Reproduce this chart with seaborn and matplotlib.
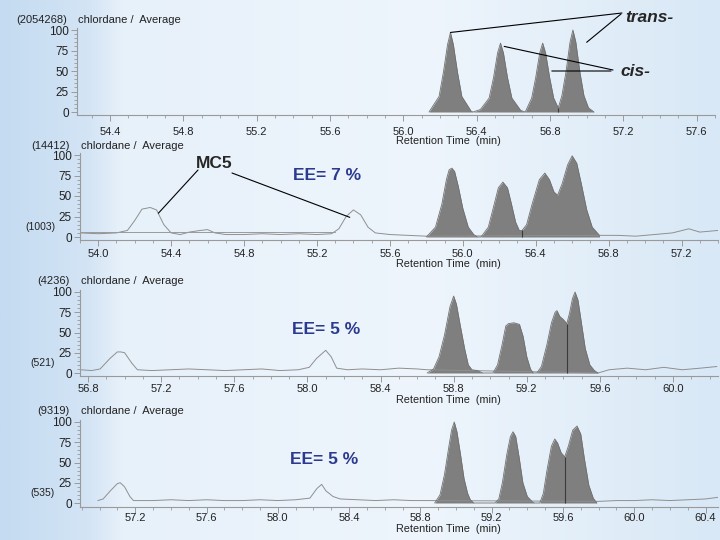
import numpy as np
import matplotlib
matplotlib.use('Agg')
import matplotlib.pyplot as plt
import matplotlib.colors as mcolors
from matplotlib.ticker import MultipleLocator
import seaborn as sns

# ---- data (retention time in min, relative intensity %) ----
# panel 1: standard, trans-/cis- pairs
p1_peak_t = [56.14, 56.195, 56.219, 56.241, 56.257, 56.273, 56.295, 56.319, 56.37, 56.38,
             56.42, 56.468, 56.492, 56.514, 56.53, 56.546, 56.568, 56.592, 56.64, 56.665,
             56.70, 56.722, 56.744, 56.76, 56.776, 56.798, 56.82, 56.845,
             56.865, 56.888, 56.909, 56.925, 56.941, 56.962, 56.985, 57.01, 57.04]
p1_peak_v = [0, 19, 49, 82, 97, 82, 49, 19, 1, 0,
             3, 17, 42, 72, 84, 72, 42, 17, 2, 0,
             17, 42, 72, 84, 72, 42, 17, 5,
             20, 50, 85, 100, 85, 50, 20, 5, 0]
p1_noise_t = []
p1_noise_v = []
p1_split = (56.845, 5)
p1_ticks = [54.4, 54.8, 55.2, 55.6, 56.0, 56.4, 56.8, 57.2, 57.6]

# panel 2: EE= 7 %
p2_noise_t = [53.90, 54.00, 54.10, 54.16, 54.20, 54.24, 54.285, 54.32, 54.36, 54.40,
              54.45, 54.50, 54.56, 54.60, 54.64, 54.70, 54.80, 54.90, 55.00, 55.10,
              55.20, 55.28, 55.32, 55.36, 55.40, 55.44, 55.48, 55.52, 55.60, 55.70, 55.80,
              56.75, 56.85, 56.95, 57.05, 57.15, 57.24, 57.30, 57.40]
p2_noise_v = [5, 4, 5, 8, 20, 34, 36, 33, 15, 5,
              3, 6, 8, 9, 5, 3, 3, 4, 3, 4,
              3, 4, 10, 25, 33, 27, 12, 5, 3, 2, 1,
              2, 2, 1, 3, 5, 10, 6, 8]
p2_base_t = [53.90, 55.30]
p2_base_v = [6, 6]
p2_peak_t = [55.80, 55.85, 55.885, 55.91, 55.925, 55.94, 55.955, 55.975, 56.00, 56.03, 56.06, 56.08,
             56.10, 56.14, 56.17, 56.195, 56.22, 56.245, 56.265, 56.29, 56.31, 56.325,
             56.35, 56.38, 56.42, 56.45, 56.475, 56.50, 56.52, 56.545, 56.575, 56.60,
             56.625, 56.65, 56.68, 56.71, 56.75]
p2_peak_v = [0, 12, 40, 70, 82, 84, 80, 62, 35, 12, 3, 0,
             0, 12, 38, 60, 67, 60, 42, 18, 8, 8,
             15, 40, 70, 78, 70, 55, 51, 65, 88, 99,
             90, 65, 33, 12, 2]
p2_split = (56.325, 8)
p2_ticks = [54.0, 54.4, 54.8, 55.2, 55.6, 56.0, 56.4, 56.8, 57.2]

# panel 3: EE= 5 %
p3_noise_t = [56.76, 56.82, 56.866, 56.92, 56.96, 56.98, 57.00, 57.04, 57.07, 57.15,
              57.25, 57.35, 57.45, 57.55, 57.65, 57.75, 57.85, 57.95, 58.01, 58.05,
              58.10, 58.13, 58.16, 58.22, 58.30, 58.40, 58.50, 58.60, 58.655,
              59.59, 59.65, 59.75, 59.85, 59.95, 60.05, 60.15, 60.24]
p3_noise_v = [4, 3, 5, 18, 26, 26, 25, 12, 4, 3,
              4, 5, 4, 3, 4, 5, 3, 4, 7, 18,
              28, 20, 6, 4, 5, 4, 6, 5, 4,
              0, 4, 6, 4, 7, 4, 6, 8]
p3_peak_t = [58.655, 58.69, 58.72, 58.75, 58.78, 58.80, 58.815, 58.835, 58.86, 58.88, 58.90, 58.93, 58.96,
             59.015, 59.04, 59.065, 59.085, 59.10, 59.13, 59.16, 59.18, 59.20, 59.22, 59.235,
             59.255, 59.28, 59.31, 59.335, 59.355, 59.365, 59.38, 59.40, 59.419, 59.435,
             59.45, 59.464, 59.48, 59.50, 59.52, 59.545, 59.57, 59.59]
p3_peak_v = [0, 5, 20, 47, 82, 95, 85, 60, 30, 10, 4, 3, 0,
             0, 10, 35, 58, 61, 62, 60, 45, 20, 5, 0,
             0, 8, 35, 62, 75, 77, 70, 66, 61, 75,
             92, 100, 90, 60, 30, 10, 3, 0]
p3_split = (59.419, 61)
p3_ticks = [56.8, 57.2, 57.6, 58.0, 58.4, 58.8, 59.2, 59.6, 60.0]

# panel 4: EE= 5 %
p4_noise_t = [56.99, 57.02, 57.06, 57.10, 57.116, 57.14, 57.17, 57.19, 57.30, 57.40,
              57.50, 57.60, 57.70, 57.80, 57.90, 58.00, 58.10, 58.18, 58.22, 58.246,
              58.27, 58.31, 58.35, 58.45, 58.55, 58.65, 58.75, 58.85,
              59.80, 59.90, 60.00, 60.10, 60.20, 60.30, 60.40, 60.47]
p4_noise_v = [3, 5, 15, 24, 25, 20, 8, 3, 3, 4,
              3, 4, 3, 3, 4, 3, 4, 6, 18, 23,
              15, 8, 5, 4, 3, 4, 3, 3,
              2, 3, 3, 4, 3, 4, 5, 7]
p4_peak_t = [58.88, 58.91, 58.935, 58.96, 58.975, 58.99, 59.005, 59.025, 59.045, 59.065, 59.08, 59.10,
             59.218, 59.24, 59.26, 59.285, 59.305, 59.32, 59.335, 59.355, 59.375, 59.40, 59.43, 59.44,
             59.47, 59.49, 59.51, 59.535, 59.554, 59.57, 59.59, 59.61, 59.63, 59.655,
             59.679, 59.70, 59.72, 59.745, 59.77, 59.79]
p4_peak_v = [0, 10, 35, 70, 90, 100, 88, 60, 30, 12, 4, 0,
             0, 5, 25, 60, 82, 88, 82, 55, 25, 8, 1, 0,
             0, 12, 40, 70, 79, 74, 62, 57, 70, 90,
             95, 85, 55, 22, 6, 0]
p4_split = (59.61, 57)
p4_ticks = [57.2, 57.6, 58.0, 58.4, 58.8, 59.2, 59.6, 60.0, 60.4]

max_counts = ['(2054268)', '(14412)', '(4236)', '(9319)']
low_counts = [None, '(1003)', '(521)', '(535)']
ee_labels = ['EE= 7 %', 'EE= 5 %', 'EE= 5 %']
y_ticks = [0, 25, 50, 75, 100]

# ---- figure ----
sns.set_style('ticks')
plt.rcParams['font.family'] = ['Liberation Sans', 'DejaVu Sans']

W, H = 720, 540
fig = plt.figure(figsize=(7.2, 5.4), dpi=100)


def fx(px):
    return px / W


def fy(py):
    return 1 - py / H


# light blue slide background
bg = fig.add_axes([0, 0, 1, 1], zorder=-10)
stops = [0, 0.12, 0.17, 0.6, 1.0]
cols = np.array([mcolors.to_rgb(c) for c in ['#c4dbf1', '#d3e4f5', '#e7f1fa', '#eef5fc', '#d8e8f6']])
xs = np.linspace(0, 1, 400)
img = np.stack([np.interp(xs, stops, cols[:, i]) for i in range(3)], axis=-1)[None, :, :]
bg.imshow(img, aspect='auto', extent=[0, 1, 0, 1])
bg.axis('off')

# pixel boxes: left, right, y of 100, y of 0, y of x axis
panels = [
    dict(t=p1_peak_t, v=p1_peak_v, nt=p1_noise_t, nv=p1_noise_v, split=p1_split, ticks=p1_ticks,
         box=(77, 715, 30, 112, 115), xlim=(54.22, 57.70), title_y=20, low_y=None, xl_y=141, pad=4.5),
    dict(t=p2_peak_t, v=p2_peak_v, nt=p2_noise_t, nv=p2_noise_v, split=p2_split, ticks=p2_ticks,
         box=(80, 718, 155, 237, 240), xlim=(53.90, 57.40), title_y=146, low_y=227, xl_y=264, pad=2.3),
    dict(t=p3_peak_t, v=p3_peak_v, nt=p3_noise_t, nv=p3_noise_v, split=p3_split, ticks=p3_ticks,
         box=(80, 718, 292, 373, 376), xlim=(56.756, 60.246), title_y=281, low_y=363, xl_y=400, pad=1.6),
    dict(t=p4_peak_t, v=p4_peak_v, nt=p4_noise_t, nv=p4_noise_v, split=p4_split, ticks=p4_ticks,
         box=(80, 718, 422, 503, 507), xlim=(56.89, 60.47), title_y=411, low_y=493, xl_y=529, pad=0.5),
]

axes = []
for i, p in enumerate(panels):
    left, right, y100, y0, yax = p['box']
    ymin = -(yax - y0) / (y0 - y100) * 100
    ytop = 102
    h_px = (ytop - ymin) * (y0 - y100) / 100
    ax = fig.add_axes([fx(left), fy(yax), (right - left) / W, h_px / H])
    ax.set_facecolor('none')

    if len(p['nt']):
        sns.lineplot(x=p['nt'], y=p['nv'], ax=ax, color='#8f8f8f', lw=0.7,
                     estimator=None, sort=False)
    if i == 1:
        sns.lineplot(x=p2_base_t, y=p2_base_v, ax=ax, color='#9a9a9a', lw=0.7,
                     estimator=None, sort=False)
    ax.fill_between(p['t'], 0, p['v'], color='#7f7f7f', lw=0)
    sns.lineplot(x=p['t'], y=p['v'], ax=ax, color='#707070', lw=0.6,
                 estimator=None, sort=False)
    ax.vlines(p['split'][0], 0, p['split'][1], color='#3a3a3a', lw=0.8)

    ax.set_xlim(*p['xlim'])
    ax.set_ylim(ymin, ytop)
    ax.set_xticks(p['ticks'])
    ax.set_xticklabels([f'{t:.1f}' for t in p['ticks']])
    ax.xaxis.set_minor_locator(MultipleLocator(0.1))
    ax.set_yticks(y_ticks)
    ax.set_yticklabels([str(v) for v in y_ticks])
    ax.yaxis.set_minor_locator(MultipleLocator(5))
    ax.set_xlabel('')
    ax.set_ylabel('')
    for s in ['top', 'right']:
        ax.spines[s].set_visible(False)
    for s in ['left', 'bottom']:
        ax.spines[s].set_color('#9a9a9a')
        ax.spines[s].set_linewidth(0.8)
    ax.tick_params(axis='x', which='major', length=4, width=0.7, color='#9a9a9a',
                   labelsize=8, pad=p['pad'], labelcolor='#222222')
    ax.tick_params(axis='y', which='major', length=4, width=0.7, color='#9a9a9a',
                   labelsize=8.5, pad=2, labelcolor='#222222')
    ax.tick_params(which='minor', length=2, width=0.6, color='#9a9a9a')

    # header texts
    fig.text(fx(left - 10), fy(p['title_y']), max_counts[i], ha='right', va='center',
             fontsize=8, color='#222222')
    fig.text(fx(left + 1), fy(p['title_y']), 'chlordane /  Average', ha='left', va='center',
             fontsize=8, color='#222222')
    if p['low_y'] is not None:
        fig.text(fx(55), fy(p['low_y']), low_counts[i], ha='right', va='center',
                 fontsize=7.5, color='#222222')
    fig.text(fx(448), fy(p['xl_y']), 'Retention Time  (min)', ha='center', va='center',
             fontsize=7.8, color='#222222')
    axes.append(ax)

ax1, ax2, ax3, ax4 = axes
line_kw = dict(arrowstyle='-', color='black', lw=0.8, shrinkA=0, shrinkB=0)

# trans- / cis- labels on the standard
fig.text(fx(625), fy(18), 'trans-', ha='left', va='center', fontsize=12.5,
         fontweight='bold', fontstyle='italic')
ax1.annotate('', xy=(p1_peak_t[4], p1_peak_v[4]), xytext=(fx(622), fy(13)),
             textcoords='figure fraction', arrowprops=line_kw)
ax1.annotate('', xy=(57.0, 85), xytext=(fx(621), fy(14)),
             textcoords='figure fraction', arrowprops=line_kw)
fig.text(fx(620), fy(71), 'cis-', ha='left', va='center', fontsize=12.5,
         fontweight='bold', fontstyle='italic')
ax1.annotate('', xy=(56.55, 80), xytext=(fx(613), fy(70)),
             textcoords='figure fraction', arrowprops=line_kw)
ax1.annotate('', xy=(56.81, 50), xytext=(fx(611), fy(71)),
             textcoords='figure fraction', arrowprops=line_kw)

# MC5 internal standard
fig.text(fx(214), fy(164), 'MC5', ha='center', va='center', fontsize=12.5, fontweight='bold')
ax2.annotate('', xy=(54.33, 29), xytext=(fx(198), fy(170)),
             textcoords='figure fraction', arrowprops=line_kw)
ax2.annotate('', xy=(55.38, 24), xytext=(fx(232), fy(173)),
             textcoords='figure fraction', arrowprops=line_kw)

# enantiomeric excess labels
for lbl, (x, y) in zip(ee_labels, [(293, 176), (292, 329), (290, 460)]):
    fig.text(fx(x), fy(y), lbl, ha='left', va='center', fontsize=12.5,
             fontweight='bold', color='#2b3a8e')

plt.savefig('out.png', dpi=100)
plt.close()
